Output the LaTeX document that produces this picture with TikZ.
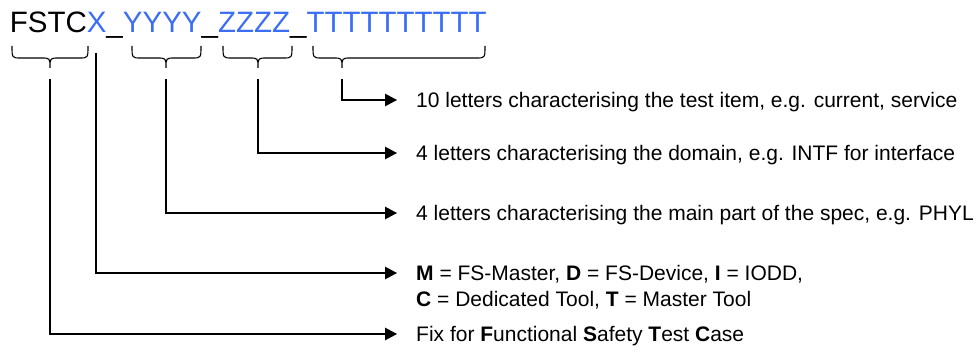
\documentclass[tikz,border=0pt]{standalone}
\usepackage{fontspec}
\setmainfont{Liberation Sans}
\usetikzlibrary{arrows.meta}
\definecolor{codeblue}{RGB}{59,110,245}
\begin{document}
\begin{tikzpicture}[x=1pt,y=-1pt,
  conn/.style={line width=1.2pt, -{Triangle[length=12pt,width=12.5pt]}, shorten >=19pt},
  brc/.style={line width=1.1pt},
  lbl/.style={anchor=base west, inner sep=0pt, text height=15pt, text depth=0pt,
              font=\fontsize{21}{26}\selectfont},
  title/.style={anchor=base west, inner sep=0pt, font=\fontsize{29.5}{34}\selectfont}]
\useasboundingbox (0,0) rectangle (979,352);

% identifier pattern
\node[title] (code) at (9.6,33)
  {FSTC\textcolor{codeblue}{X}\_\textcolor{codeblue}{YYYY}\_\textcolor{codeblue}{ZZZZ}\_\textcolor{codeblue}{TTTTTTTTTT}};

% braces under the fields
\foreach \a/\t/\b in {12/50/88, 132/166/201, 223/258/292, 313/342/485}{
  \draw[brc] (\a,46) .. controls (\a,58) .. (\a+9,58) -- (\t-9,58)
             .. controls (\t,58) .. (\t,68)
             .. controls (\t,58) .. (\t+9,58) -- (\b-9,58)
             .. controls (\b,58) .. (\b,46);
}

% start points of the connectors
\coordinate (fstc) at (50,79);
\coordinate (x)    at (96,53);
\coordinate (yyyy) at (166,79);
\coordinate (zzzz) at (258,79);
\coordinate (tttt) at (342,79);

% explanations
\node[lbl] (lt) at (416,107.5) {10 letters characterising the test item, e.g. current, service};
\node[lbl] (lz) at (416,160.5) {4 letters characterising the domain, e.g. INTF for interface};
\node[lbl] (ly) at (416,220.5) {4 letters characterising the main part of the spec, e.g. PHYL};
\node[lbl] (lx) at (416,280.5) {\textbf{M} = FS-Master, \textbf{D} = FS-Device, \textbf{I} = IODD,};
\node[lbl] (lx2) at (416,306.5) {\textbf{C} = Dedicated Tool, \textbf{T} = Master Tool};
\node[lbl] (lf) at (416,341.5) {Fix for \textbf{F}unctional \textbf{S}afety \textbf{T}est \textbf{C}ase};

% connectors
\draw[conn] (tttt) |- (lt.west);
\draw[conn] (zzzz) |- (lz.west);
\draw[conn] (yyyy) |- (ly.west);
\draw[conn] (x)    |- (lx.west);
\draw[conn] (fstc) |- (lf.west);
\end{tikzpicture}
\end{document}
